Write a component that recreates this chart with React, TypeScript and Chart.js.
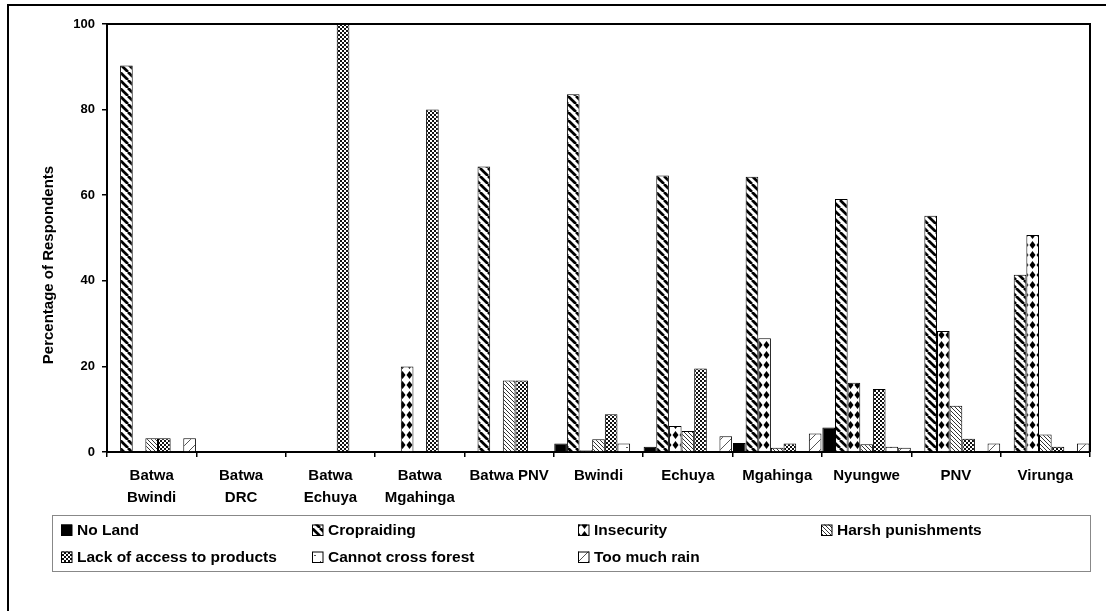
import { useEffect, useRef } from "react";
import { Chart, registerables } from "chart.js";

Chart.register(...registerables);

const categories: (string | string[])[] = [
  ["Batwa", "Bwindi"],
  ["Batwa", "DRC"],
  ["Batwa", "Echuya"],
  ["Batwa", "Mgahinga"],
  "Batwa PNV",
  "Bwindi",
  "Echuya",
  "Mgahinga",
  "Nyungwe",
  "PNV",
  "Virunga",
];

const seriesNames = [
  "No Land",
  "Cropraiding",
  "Insecurity",
  "Harsh punishments",
  "Lack of access to products",
  "Cannot cross forest",
  "Too much rain",
];

const noLand = [0, 0, 0, 0, 0, 2.0, 1.2, 2.1, 5.7, 0, 0];
const cropraiding = [90.3, 0, 0, 0, 66.7, 83.6, 64.6, 64.3, 59.1, 55.2, 41.4];
const insecurity = [0, 0, 0, 20.0, 0, 0.4, 6.1, 26.6, 16.2, 28.3, 50.7];
const harshPunishments = [3.2, 0, 0, 0, 16.7, 3.0, 4.9, 1.0, 1.8, 10.8, 4.1];
const lackOfAccess = [3.2, 0, 100, 80.0, 16.7, 8.8, 19.5, 2.0, 14.7, 3.1, 1.2];
const cannotCross = [0, 0, 0, 0, 0, 2.0, 0, 0, 1.2, 0, 0];
const tooMuchRain = [3.2, 0, 0, 0, 0, 0, 3.7, 4.3, 1.0, 2.0, 2.0];

const yTickValues = [0, 20, 40, 60, 80, 100];
const yTitle = "Percentage of Respondents";

const FONT = "'Liberation Sans', Arial, sans-serif";

function tile(w: number, h: number, draw: (c: CanvasRenderingContext2D) => void): CanvasPattern {
  const cv = document.createElement("canvas");
  cv.width = w;
  cv.height = h;
  const c = cv.getContext("2d")!;
  c.fillStyle = "#fff";
  c.fillRect(0, 0, w, h);
  draw(c);
  return c.createPattern(cv, "repeat")!;
}

function makePatterns(): (CanvasPattern | string)[] {
  const crop = tile(8, 8, (c) => {
    c.strokeStyle = "#000";
    c.lineWidth = 2.7;
    for (const o of [-8, 0, 8]) {
      c.beginPath();
      c.moveTo(o, 0);
      c.lineTo(o + 8, 8);
      c.stroke();
    }
  });
  const insec = tile(7, 10, (c) => {
    c.fillStyle = "#000";
    c.beginPath();
    c.moveTo(3.5, 1);
    c.lineTo(6.5, 5);
    c.lineTo(3.5, 9);
    c.lineTo(0.5, 5);
    c.closePath();
    c.fill();
  });
  const harsh = tile(4, 4, (c) => {
    c.strokeStyle = "#333";
    c.lineWidth = 1;
    for (const o of [-4, 0, 4]) {
      c.beginPath();
      c.moveTo(o, 0);
      c.lineTo(o + 4, 4);
      c.stroke();
    }
  });
  const lack = tile(4, 4, (c) => {
    c.fillStyle = "#111";
    c.fillRect(0, 0, 2, 2);
    c.fillRect(2, 2, 2, 2);
  });
  const cannot = tile(12, 12, (c) => {
    c.fillStyle = "#555";
    c.fillRect(2, 3, 2, 1);
    c.fillRect(8, 9, 1, 2);
  });
  const rain = tile(10, 10, (c) => {
    c.strokeStyle = "#555";
    c.lineWidth = 1;
    c.beginPath();
    c.moveTo(0, 10);
    c.lineTo(10, 0);
    c.stroke();
  });
  return ["#000", crop, insec, harsh, lack, cannot, rain];
}

const legendColumns = [61, 312, 578, 821];
const legendRows = [530, 557];

export default function App() {
  const ref = useRef<HTMLCanvasElement | null>(null);

  useEffect(() => {
    if (!ref.current) return;
    const fills = makePatterns();
    const values = [noLand, cropraiding, insecurity, harshPunishments, lackOfAccess, cannotCross, tooMuchRain];

    const decor = {
      id: "decor",
      afterDraw(chart: any) {
        const ctx: CanvasRenderingContext2D = chart.ctx;
        const a = chart.chartArea;
        ctx.save();
        ctx.strokeStyle = "#000";
        ctx.lineWidth = 2;
        ctx.beginPath();
        ctx.moveTo(8, 611);
        ctx.lineTo(8, 5);
        ctx.lineTo(1106, 5);
        ctx.stroke();
        ctx.beginPath();
        ctx.moveTo(a.left, a.top);
        ctx.lineTo(a.right, a.top);
        ctx.lineTo(a.right, a.bottom);
        ctx.stroke();
        ctx.fillStyle = "#000";
        ctx.font = `bold 15px ${FONT}`;
        ctx.textAlign = "center";
        ctx.textBaseline = "middle";
        ctx.translate(49, 265);
        ctx.rotate(-Math.PI / 2);
        ctx.fillText(yTitle, 0, 0);
        ctx.restore();

        ctx.save();
        ctx.strokeStyle = "#888";
        ctx.lineWidth = 1;
        ctx.strokeRect(52.5, 515.5, 1038, 56);
        ctx.font = `bold 15.5px ${FONT}`;
        ctx.textAlign = "left";
        ctx.textBaseline = "middle";
        seriesNames.forEach((name, i) => {
          const col = i % 4;
          const row = Math.floor(i / 4);
          const x = legendColumns[col];
          const y = legendRows[row];
          ctx.fillStyle = fills[i] as any;
          ctx.fillRect(x, y - 5.5, 11, 11);
          ctx.strokeStyle = "#000";
          ctx.lineWidth = 1;
          ctx.strokeRect(x + 0.5, y - 5, 10.5, 10.5);
          ctx.fillStyle = "#000";
          ctx.fillText(name, x + 16, y + 0.5);
        });
        ctx.restore();
      },
    };

    const chart = new Chart(ref.current, {
      type: "bar",
      data: {
        labels: categories as any,
        datasets: seriesNames.map((name, i) => ({
          label: name,
          data: values[i],
          backgroundColor: fills[i] as any,
          borderColor: "#000",
          borderWidth: 1,
          borderSkipped: "bottom",
          categoryPercentage: 0.99,
          barPercentage: 1,
        })),
      },
      options: {
        responsive: false,
        animation: false,
        devicePixelRatio: 1,
        layout: { padding: { top: 24, right: 16, left: 0, bottom: 0 } },
        plugins: {
          legend: { display: false },
          tooltip: { enabled: false },
          title: { display: false },
        },
        scales: {
          x: {
            grid: {
              display: true,
              drawOnChartArea: false,
              drawTicks: true,
              tickLength: 5,
              color: "#000",
              lineWidth: 1.5,
              offset: true,
            },
            border: { display: true, color: "#000", width: 2 },
            ticks: {
              color: "#000",
              font: { family: FONT, weight: "bold", size: 15, lineHeight: 1.47 },
              padding: 8,
              maxRotation: 0,
              minRotation: 0,
              autoSkip: false,
            },
            afterFit: (s: any) => {
              s.height = 159;
            },
          },
          y: {
            min: 0,
            max: 100,
            afterBuildTicks: (s: any) => {
              s.ticks = yTickValues.map((v) => ({ value: v }));
            },
            grid: {
              display: true,
              drawOnChartArea: false,
              drawTicks: true,
              tickLength: 5,
              color: "#000",
              lineWidth: 1.5,
            },
            border: { display: true, color: "#000", width: 2 },
            ticks: {
              color: "#000",
              font: { family: FONT, weight: "bold", size: 13 },
              padding: 7,
            },
            afterFit: (s: any) => {
              s.width = 107;
            },
          },
        },
      } as any,
      plugins: [decor],
    });

    return () => chart.destroy();
  }, []);

  return (
    <div style={{ position: "absolute", left: 0, top: 0, width: 1106, height: 611, background: "#fff" }}>
      <canvas ref={ref} width={1106} height={611} style={{ display: "block" }} />
    </div>
  );
}
